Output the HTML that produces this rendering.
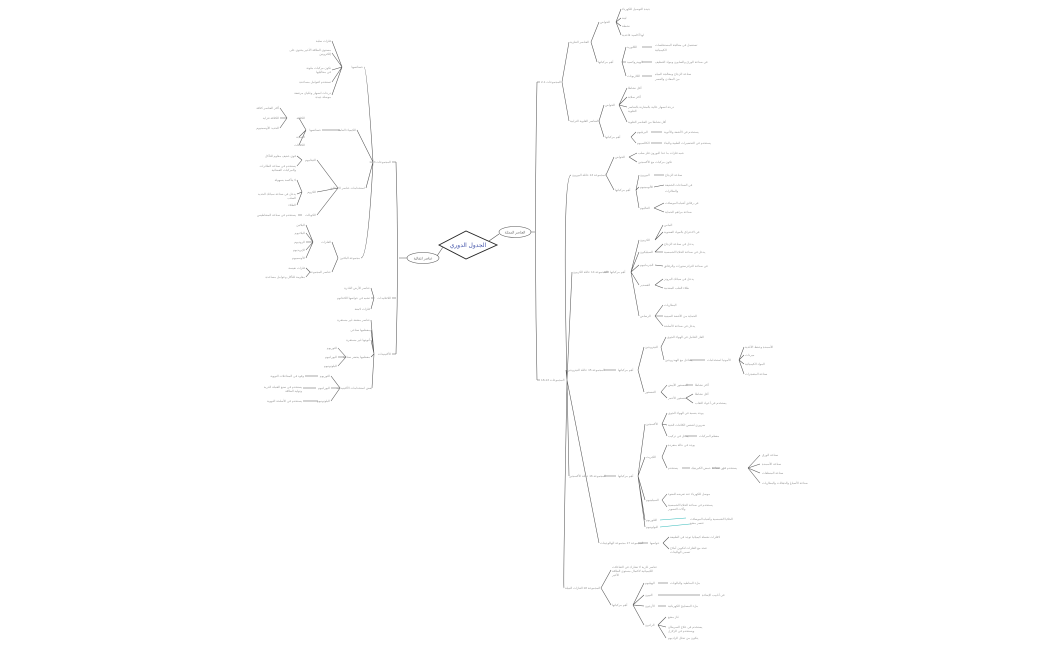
<!DOCTYPE html>
<html><head><meta charset="utf-8"><style>
html,body{margin:0;padding:0;background:#fff;width:1050px;height:650px;overflow:hidden}
svg text{font-family:"Liberation Sans","Noto Sans CJK SC",sans-serif;font-size:3.1px;fill:#999}
.e text,text.e{text-anchor:end}
</style></head><body>
<svg width="1050" height="650" viewBox="0 0 1050 650" xmlns="http://www.w3.org/2000/svg">
<g fill="none" stroke="#555" stroke-width="0.55">
<polygon points="439,245 466,231 497,245 466,259" fill="#fff" stroke="#222" stroke-width="0.9"/>
<ellipse cx="515" cy="232" rx="16" ry="5.5" fill="#fff"/>
<ellipse cx="423" cy="258" rx="16" ry="5.5" fill="#fff"/>
<path d="M489,241 L499,234 M443,247 L437,256"/>
<path d="M531,232 L535,232 M537,82 Q534,232 537,380 M537,82 L540,82 M537,380 L540,380"/>
<path d="M562,82 L569,42 M562,82 L569,121 M591,42 L599,22 M591,42 L597,62
M616,22 L621,9 M616,22 L621,18 M616,22 L621,26 M616,22 L621,35
M622,62 L626,47 M622,62 L626,62 M622,62 L626,76
M642,47 L652,47 M642,62 L652,62 M642,76 L652,76
M599,121 L604,105 M599,121 L604,137
M619,105 L627,88 M619,105 L627,97 M619,105 L627,107 M619,105 L627,122
M631,137 L636,132 M631,137 L636,143 M651,132 L662,132 M651,143 L662,143"/>
<path d="M567,380 Q562,175 571,175 M567,380 L572,272 M567,380 L566,370 M567,380 L569,476 M567,380 L599,543 M567,380 Q563,588 564,588"/>
<path d="M606,175 L614,157 M606,175 L614,190 M629,157 L637,153 M629,157 L637,162
M636,190 L639,175 M636,190 L639,187 M636,190 L639,208 M654,175 L664,175 M654,187 L664,185 M654,208 L664,203 M654,208 L664,212"/>
<path d="M604,272 L609,272 M631,272 L639,240 M631,272 L639,252 M631,272 L639,265 M631,272 L639,285 M631,272 L639,316
M655,240 L663,225 M655,240 L663,232 M655,252 L663,244 M655,252 L663,252 M655,265 L663,266 M655,285 L663,279 M655,285 L663,288 M655,316 L663,305 M655,316 L663,316 M655,316 L663,326"/>
<path d="M604,370 L616,370 M638,370 L644,347 M638,370 L644,392 M661,347 L666,337 M661,347 L664,360 M690,360 L705,360 M739,360 L744,347 M739,360 L744,355 M739,360 L744,364 M739,360 L744,374
M661,392 L667,385 M661,392 L667,398 M686,385 L693,385 M686,398 L693,394 M686,398 L693,403"/>
<path d="M604,476 L616,476 M638,476 L645,424 M638,476 L645,457 M638,476 L645,500 M638,476 L645,520 M638,476 L645,527
M662,424 L667,413 M662,424 L667,425 M662,424 L667,436 M685,436 L697,436
M662,457 L667,445 M662,457 L667,468 M682,468 L690,468 M712,468 L720,468 M748,468 L760,455 M748,468 L760,464 M748,468 L760,473 M748,468 L760,483
M662,500 L667,494 M662,500 L667,507"/>
<path d="M660,520 L686,518 M660,527 L690,524" stroke="#3bb" stroke-width="0.6"/>
<path d="M638,543 L648,543 M663,543 L669,537 M663,543 L669,549
M601,588 L611,570 M601,588 L611,605 M633,605 L644,583 M633,605 L644,595 M633,605 L644,606 M633,605 L644,625
M658,583 L668,583 M658,595 L700,595 M658,606 L666,606 M658,625 L666,617 M658,625 L666,627 M658,625 L666,638"/>
<path d="M407,258 L399,258 M396,162 Q399,258 396,354 M396,162 L392,162 M396,298 L392,298 M396,354 L392,354"/>
<path d="M373,162 Q367,67 364,67 M373,162 L357,130 M373,162 L366,188 M373,162 Q368,258 361,258
M342,67 L332,41 M342,67 L332,53 M342,67 L332,70 M342,67 L332,82 M342,67 L332,95
M340,130 L322,130 M306,130 L299,118 M306,130 L299,137 M306,130 L299,145 M287,118 L280,108 M287,118 L280,118 M287,118 L280,128
M338,188 L317,160 M338,188 L317,192 M338,188 L317,215 M302,160 L297,156 M302,160 L297,166 M302,192 L297,180 M302,192 L297,194 M302,192 L297,205 M302,215 L298,215
M338,258 L332,242 M338,258 L332,272 M313,242 L306,225 M313,242 L306,233 M313,242 L306,242 M313,242 L306,250 M313,242 L306,258 M310,272 L306,268 M310,272 L306,277"/>
<path d="M374,298 L371,288 M374,298 L371,298 M374,298 L371,309
M374,354 L371,320 M374,354 L371,330 M374,354 L371,340 M374,354 L371,357 M374,354 L372,388
M346,357 L338,348 M346,357 L338,357 M346,357 L338,366
M340,388 L331,376 M340,388 L331,388 M340,388 L331,401 M318,376 L305,376 M316,388 L303,388 M318,401 L303,401"/>
</g>
<text x="468" y="247" style="font-size:6px;fill:#4455aa" text-anchor="middle">الجدول الدوري</text>
<text x="515" y="233.3" style="font-size:3.3px;fill:#666" text-anchor="middle">العناصر الممثلة</text>
<text x="423" y="259.3" style="font-size:3.3px;fill:#666" text-anchor="middle">عناصر انتقالية</text>
<g>
<text x="541" y="83">المجموعات 1-2</text>
<text x="541" y="381">المجموعات 13-18</text>
<text x="570" y="43">العناصر الفلزية</text>
<text x="600" y="23">الخواص</text>
<text x="622" y="10">جيدة التوصيل للكهرباء</text><text x="622" y="19">لينة</text><text x="622" y="27">نشطة</text><text x="622" y="36">لها أكاسيد قاعدية</text>
<text x="598" y="63">أهم مركباتها</text>
<text x="627" y="48">الكلوريد</text><text x="627" y="63">الهيدروكسيد</text><text x="627" y="77">الكاربونات</text>
<text x="655" y="46">تستعمل في معالجة المستخلصات</text><text x="655" y="51">الكيميائية</text>
<text x="655" y="63">في صناعة الورق والصابون ومواد التنظيف</text>
<text x="655" y="75">صناعة الزجاج ومعالجة المياه</text><text x="655" y="80">من المعادن والعسر</text>
<text x="570" y="122">العناصر القلوية الترابية</text>
<text x="605" y="106">الخواص</text>
<text x="628" y="89">أقل نشاطا</text><text x="628" y="98">أكثر صلابة</text><text x="628" y="108">درجة انصهار عالية بالمقارنة بالعناصر</text><text x="628" y="112">القلوية</text><text x="628" y="123">أقل نشاطا من العناصر القلوية</text>
<text x="605" y="138">أهم مركباتها</text>
<text x="637" y="133">البريليوم</text><text x="637" y="144">الكالسيوم</text>
<text x="664" y="133">يستخدم في الأشعة والأدوية</text><text x="664" y="144">يستخدم في التحضيرات الطبية والبناء</text>
<text x="572" y="176">المجموعة 13 عائلة البورون</text>
<text x="615" y="158">الخواص</text><text x="615" y="191">أهم مركباتها</text>
<text x="638" y="154">شبه فلزات ما عدا البورون فلز صلب</text><text x="638" y="163">تكون مركبات مع الأكسجين</text>
<text x="640" y="176">البورون</text><text x="640" y="188">الألومينيوم</text><text x="640" y="209">الغاليوم</text>
<text x="665" y="176">صناعة الزجاج</text><text x="665" y="186">في الصناعات الخفيفة</text><text x="665" y="192">والطائرات</text><text x="665" y="204">في رقائق أشباه الموصلات</text><text x="665" y="213">صناعة مراهم الحماية</text>
<text x="573" y="273">المجموعة 14 عائلة الكربون</text>
<text x="610" y="273">أهم مركباتها</text>
<text x="640" y="241">الكربون</text><text x="640" y="253">السيليكون</text><text x="640" y="266">الجرمانيوم</text><text x="640" y="286">القصدير</text><text x="640" y="317">الرصاص</text>
<text x="664" y="226">الماس</text><text x="664" y="233">في الاحتراق بالمواد العضوية</text><text x="664" y="245">يدخل في صناعة الزجاج</text><text x="664" y="253">يدخل في صناعة الخلايا الشمسية</text><text x="664" y="267">في صناعة الترانزستورات والرقائق</text><text x="664" y="280">يدخل في سبائك البرونز</text><text x="664" y="289">طلاء العلب المعدنية</text><text x="664" y="306">البطاريات</text><text x="664" y="317">الحماية من الأشعة السينية</text><text x="664" y="327">يدخل في صناعة الأسلحة</text>
<text x="567" y="371">المجموعة 15 عائلة النيتروجين</text>
<text x="618" y="371">أهم مركباتها</text>
<text x="645" y="348">النيتروجين</text><text x="645" y="393">الفسفور</text>
<text x="667" y="338">الغاز الخامل في الهواء الجوي</text>
<text x="665" y="361">يتفاعل مع الهيدروجين</text>
<text x="707" y="361">الأمونيا استخدامات</text>
<text x="745" y="348">الأسمدة وحفظ الأغذية</text><text x="745" y="356">مبردات</text><text x="745" y="365">المواد الكيميائية</text><text x="745" y="375">صناعة المتفجرات</text>
<text x="668" y="386">الفسفور الأبيض</text><text x="668" y="399">الفسفور الأحمر</text>
<text x="695" y="386">أكثر نشاطا</text><text x="695" y="395">أقل نشاطا</text><text x="695" y="404">يستخدم في أعواد الثقاب</text>
<text x="569" y="477">المجموعة 16 عائلة الأكسجين</text>
<text x="618" y="477">أهم مركباتها</text>
<text x="646" y="425">الأكسجين</text><text x="646" y="458">الكبريت</text><text x="646" y="501">السيلينيوم</text><text x="646" y="521">التلوريوم</text><text x="646" y="528">البولونيوم</text>
<text x="668" y="414">يوجد بنسبة في الهواء الجوي</text><text x="668" y="426">ضروري لتنفس الكائنات الحية</text><text x="668" y="437">يدخل في تركيب</text><text x="699" y="437">معظم المركبات</text>
<text x="668" y="446">يوجد في حالة منفردة</text><text x="668" y="469">يستخدم</text><text x="691" y="469">في صناعة حمض الكبريتيك</text><text x="722" y="469">يستخدم في</text>
<text x="762" y="456">صناعة الورق</text><text x="762" y="465">صناعة الأسمدة</text><text x="762" y="474">صناعة المنظفات</text><text x="762" y="484">صناعة الأصباغ والدهانات والبطاريات</text>
<text x="668" y="495">موصل للكهرباء عند تعرضه للضوء</text><text x="668" y="506">يستخدم في صناعة الخلايا الشمسية</text><text x="668" y="510">وآلات التصوير</text>
<text x="690" y="520">الخلايا الشمسية وأشباه الموصلات</text><text x="690" y="524">عنصر مشع</text>
<text x="600" y="544">المجموعة 17 مجموعة الهالوجينات</text>
<text x="650" y="544">خواصها</text>
<text x="670" y="538">لافلزات نشطة كيميائيا توجد في الطبيعة</text><text x="670" y="549">تتحد مع الفلزات لتكوين أملاح</text><text x="670" y="553">تسمى الهاليدات</text>
<text x="565" y="589">المجموعة 18 الغازات النبيلة</text>
<text x="612" y="568">عناصر غازية لا تشارك في التفاعلات</text><text x="612" y="572">الكيميائية لاكتمال مستوى الطاقة</text><text x="612" y="576">الأخير</text>
<text x="612" y="606">أهم مركباتها</text>
<text x="645" y="584">الهيليوم</text><text x="645" y="596">النيون</text><text x="645" y="607">الأرجون</text><text x="645" y="626">الرادون</text>
<text x="670" y="584">ملء المناطيد والبالونات</text><text x="702" y="596">في أنابيب الإضاءة</text><text x="668" y="607">ملء المصابيح الكهربائية</text>
<text x="668" y="618">غاز مشع</text><text x="668" y="628">يستخدم في علاج السرطان</text><text x="668" y="632">ويستخدم في الزلازل</text><text x="668" y="639">يتكون من تحلل الراديوم</text>
</g>
<g class="e">
<text x="391" y="163">المجموعات 3-12</text>
<text x="363" y="68">خصائصها</text>
<text x="331" y="42">فلزات صلبة</text><text x="331" y="51">مستوى الطاقة الأخير يحتوي على</text><text x="331" y="55">إلكترونين</text><text x="331" y="69">تكون مركبات ملونة</text><text x="331" y="73">في محاليلها</text><text x="331" y="83">تستخدم كعوامل مساعدة</text><text x="331" y="94">درجات انصهار وغليان مرتفعة</text><text x="331" y="98">موصلة جيدة</text>
<text x="356" y="131">الكيمياء العامة</text><text x="321" y="131">خصائصها</text>
<text x="305" y="119">الكثافة</text><text x="305" y="138">الصلابة</text><text x="305" y="146">الكثافات</text>
<text x="279" y="109">أكثر العناصر كثافة</text><text x="279" y="119">الكثافة تتزايد</text><text x="279" y="129">الحديد الأوسمنيوم</text>
<text x="365" y="189">استخدامات عناصر الانتقالية</text>
<text x="316" y="161">التيتانيوم</text><text x="316" y="193">الكروم</text><text x="316" y="216">الكوبالت</text>
<text x="296" y="157">قوي خفيف مقاوم للتآكل</text><text x="296" y="167">يستخدم في صناعة الطائرات</text><text x="296" y="171">والمركبات الفضائية</text>
<text x="296" y="181">لا يتأكسد بسهولة</text><text x="296" y="195">يدخل في صناعة سبائك الحديد</text><text x="296" y="199">الصلب</text><text x="296" y="206">الطلاء</text>
<text x="296" y="216">يستخدم في صناعة المغناطيس</text>
<text x="360" y="259">مجموعة البلاتين</text>
<text x="331" y="243">الفلزات</text><text x="331" y="273">عناصر المجموعة</text>
<text x="305" y="226">البلاتين</text><text x="305" y="234">البلاديوم</text><text x="305" y="243">الروديوم</text><text x="305" y="251">الإيريديوم</text><text x="305" y="259">الأوسميوم</text>
<text x="305" y="269">فلزات نفيسة</text><text x="305" y="278">مقاومة للتآكل وعوامل مساعدة</text>
<text x="391" y="299">اللانثانيدات</text>
<text x="370" y="289">عناصر الأرض النادرة</text><text x="370" y="299">تشبه في خواصها اللانثانوم</text><text x="370" y="310">فلزات لامعة</text>
<text x="391" y="355">الأكتينيدات</text>
<text x="370" y="321">عناصر مشعة غير مستقرة</text><text x="370" y="331">معظمها صناعي</text><text x="370" y="341">أنويتها غير مستقرة</text><text x="370" y="358">معظمها يحضر صناعيا</text>
<text x="337" y="349">الثوريوم</text><text x="337" y="358">اليورانيوم</text><text x="337" y="367">البلوتونيوم</text>
<text x="372" y="389">بعض استخدامات الأكتينيدات</text>
<text x="330" y="377">الثوريوم</text><text x="330" y="389">اليورانيوم</text><text x="330" y="402">البلوتونيوم</text>
<text x="304" y="377">وقود في المفاعلات النووية</text><text x="302" y="388">يستخدم في صنع القنبلة الذرية</text><text x="302" y="392">وتوليد الطاقة</text><text x="302" y="402">يستخدم في الأسلحة النووية</text>
</g>
</svg>
</body></html>
